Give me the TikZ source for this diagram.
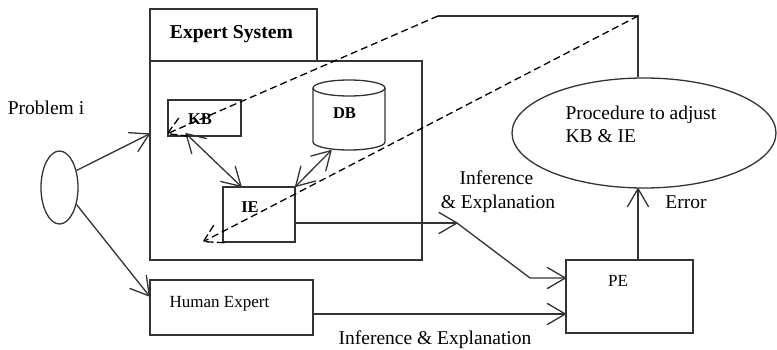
\documentclass[tikz,border=0pt]{standalone}
\usepackage{fontspec}
\setmainfont{Liberation Serif}
\usetikzlibrary{arrows.meta,calc,shapes.geometric}
\pgfdeclarearrow{
  name = VBarb,
  parameters = {\the\pgfarrowlength,\the\pgfarrowwidth},
  setup code = {
    \pgfarrowssettipend{0pt}
    \pgfarrowssetlineend{-0.3\pgflinewidth}
    \pgfarrowssetbackend{-\pgfarrowlength}
    \pgfarrowssavethe\pgfarrowlength
    \pgfarrowssavethe\pgfarrowwidth
  },
  drawing code = {
    \pgfsetroundjoin
    \pgfsetroundcap
    \pgfpathmoveto{\pgfqpoint{-\pgfarrowlength}{.5\pgfarrowwidth}}
    \pgfpathlineto{\pgfpointorigin}
    \pgfpathlineto{\pgfqpoint{-\pgfarrowlength}{-.5\pgfarrowwidth}}
    \pgfusepathqstroke
  },
  defaults = {length=18pt, width=21pt}
}
\begin{document}
\begin{tikzpicture}[x=1pt,y=-1pt,
  line width=1.3pt,
  color=black!80, text=black,
  arr/.style={-{VBarb[length=18pt,width=21pt]}},
  darr/.style={{VBarb[length=18pt,width=21pt]}-{VBarb[length=18pt,width=21pt]}},
  box/.style={draw,rectangle,inner sep=0pt},
  oval/.style={draw,ellipse,inner sep=0pt},
  dsh/.style={draw=black,dash pattern=on 7pt off 4pt},
  txt/.style={inner sep=0pt,anchor=base,font=\fontsize{19.5}{23}\selectfont},
  btxt/.style={inner sep=0pt,anchor=base,font=\fontsize{16.5}{20}\selectfont\bfseries},
  stxt/.style={inner sep=0pt,anchor=base,font=\fontsize{17}{20}\selectfont}]
\useasboundingbox (0,0) rectangle (777,350);
% boxes
\node[box,minimum width=167pt,minimum height=52pt] (est) at (233.5,35) {};
\node[box,minimum width=272pt,minimum height=199pt] (es) at (286,160.5) {};
\node[box,minimum width=73pt,minimum height=36pt] (kb) at (204.5,118) {};
\node[box,minimum width=72pt,minimum height=55pt] (ie) at (259,214.5) {};
\node[box,minimum width=163pt,minimum height=55pt] (he) at (231.5,307.5) {};
\node[box,minimum width=127pt,minimum height=73pt] (pe) at (629.5,296.5) {};
\node[oval,minimum width=37pt,minimum height=73pt] (src) at (59.5,187.5) {};
\node[oval,minimum width=264pt,minimum height=110pt] (proc) at (644,133) {};
% database cylinder
\node[inner sep=0pt,minimum width=72pt,minimum height=70pt] (db) at (349,115) {};
\draw (349,88) ellipse [x radius=36, y radius=8];
\draw (313,88) -- (313,142) arc[start angle=180, end angle=0, x radius=36, y radius=8] -- (385,88);
% texts
\node[txt] (prob) at (46,115) {Problem i};
\node[inner sep=0pt,anchor=base,font=\fontsize{19.7}{23}\selectfont\bfseries] (estt) at (231.5,39) {Expert System};
\node[btxt] (kbt) at (200,125) {KB};
\node[btxt] (dbt) at (344.5,119) {DB};
\node[btxt] (iet) at (250,213) {IE};
\node[stxt] (het) at (219.5,307) {Human Expert};
\node[stxt] (pet) at (618,286) {PE};
\node[txt] (inf1) at (496.5,185) {Inference};
\node[txt] (inf2) at (498,208) {\& Explanation};
\node[txt] (err) at (686,208) {Error};
\node[txt,align=left,anchor=base west] (proct) at (565,143) {Procedure to adjust\\KB \& IE};
\node[txt] (inf3) at (435,344) {Inference \& Explanation};
% connectors
\coordinate (tl) at (438,16);
\coordinate (tr) at (638,16);
\coordinate (bend) at (457,223);
\draw[arr] (src.45) -- ($(es.west)+(0,-26.5)$);
\draw[arr] (src.-45) -- ($(he.west)+(0,-11.5)$);
\draw[darr] ($(kb.south)+(-18.5,-3)$) -- ($(ie.north)+(-18,0)$);
\draw[darr] ($(db.south)+(-18,0)$) -- (ie.north east);
\draw[arr] ($(ie.east)+(0,8.5)$) -- (bend);
\draw[arr] (bend) -- (530,278) -- ($(pe.west)+(0,-18.5)$);
\draw[arr] ($(he.east)+(0,6.5)$) -- ($(pe.west)+(0,17.5)$);
\draw[arr] (pe.north -| tr) -- (proc.south -| tr);
\draw (proc.north -| tr) -- (tr) -- (tl);
\draw[dsh,arr] (tl) -- ($(kb.south west)+(0,-3)$);
\draw[dsh,arr] (tr) -- ($(ie.south west)+(-19,-1)$);
\end{tikzpicture}
\end{document}
